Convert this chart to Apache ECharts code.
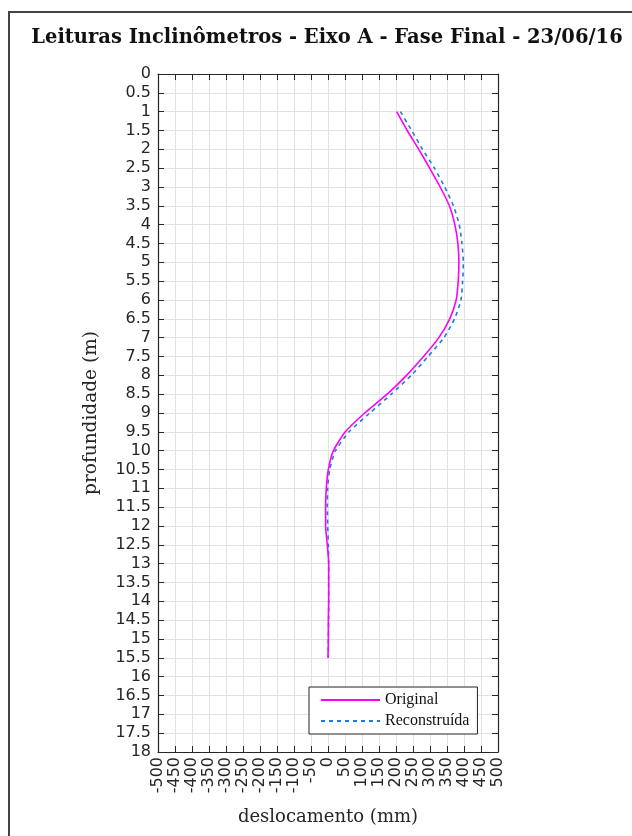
<!DOCTYPE html>
<html>
<head>
<meta charset="utf-8">
<script src="https://cdn.jsdelivr.net/npm/echarts@6/dist/echarts.min.js"></script>
<style>
html,body{margin:0;padding:0;background:#fff;}
#chart{width:632px;height:836px;}
</style>
</head>
<body>
<div id="chart"></div>
<script>
// Depth (m) of each reading
const depths = [1, 1.5, 2, 2.5, 3, 3.5, 4, 4.5, 5, 5.5, 6, 6.5, 7, 7.5, 8, 8.5, 9, 9.5, 10, 10.5, 11, 11.5, 12, 12.5, 13, 13.5, 14, 14.5, 15, 15.5];
// Displacement (mm) - Original
const original = [202, 233, 267, 299, 330, 357, 373, 382, 385, 383, 377, 358, 326, 281, 231, 174, 108, 51, 16, 1, -5, -7, -7, -2, 2, 2, 2, 1, 1, 0];
// Displacement (mm) - Reconstruída
const reconstruida = [213, 246, 278, 313, 343, 369, 386, 394, 398, 396, 391, 372, 341, 294, 245, 186, 123, 62, 22, 5, -1, -2, -1, 1, 2, 2, 2, 2, 1, 1];

const titleText = 'Leituras Inclinômetros - Eixo A - Fase Final - 23/06/16';
const xName = 'deslocamento (mm)';
const yName = 'profundidade (m)';

const axisColor = '#262626';
const gridColor = '#e2e2e2';
const sans = 'DejaVu Sans';
const serif = 'DejaVu Serif';

const chart = echarts.init(document.getElementById('chart'), null, {renderer: 'canvas'});

const tickStyle = {show: true, inside: true, length: 6, lineStyle: {color: axisColor, width: 1}};
const lineStyleAxis = {show: true, onZero: false, lineStyle: {color: axisColor, width: 1.2}};

const option = {
  animation: false,
  backgroundColor: '#ffffff',
  title: {
    text: titleText,
    left: 322,
    top: 23,
    textAlign: 'center',
    textStyle: {fontFamily: serif, fontWeight: 'bold', fontSize: 19.5, color: '#111'}
  },
  graphic: [{
    type: 'rect',
    z: -1,
    shape: {x: 9, y: 12, width: 700, height: 900},
    style: {fill: 'none', stroke: '#444', lineWidth: 2}
  }],
  legend: {
    orient: 'vertical',
    left: 309,
    top: 687,
    padding: [5, 8, 5, 11],
    itemGap: 5,
    itemWidth: 59,
    itemHeight: 14,
    borderColor: '#222',
    borderWidth: 1,
    backgroundColor: '#ffffff',
    itemStyle: {opacity: 0, borderWidth: 0},
    textStyle: {fontFamily: 'Liberation Serif', fontSize: 16, color: '#111'},
    data: ['Original', 'Reconstruída']
  },
  grid: {left: 158, top: 74, width: 340, height: 678, containLabel: false},
  xAxis: [{
    type: 'value', min: -500, max: 500, interval: 50, position: 'bottom',
    axisLine: lineStyleAxis, axisTick: tickStyle,
    axisLabel: {rotate: 90, fontFamily: sans, fontSize: 16, color: axisColor, margin: 5, showMinLabel: true, showMaxLabel: true},
    splitLine: {show: true, lineStyle: {color: gridColor, width: 1}},
    name: xName, nameLocation: 'middle', nameGap: 56,
    nameTextStyle: {fontFamily: serif, fontSize: 18, color: axisColor}
  }, {
    type: 'value', min: -500, max: 500, interval: 50, position: 'top',
    axisLine: lineStyleAxis, axisTick: tickStyle,
    axisLabel: {show: false}, splitLine: {show: false}
  }],
  yAxis: [{
    type: 'value', min: 0, max: 18, interval: 0.5, inverse: true, position: 'left',
    axisLine: lineStyleAxis, axisTick: tickStyle,
    axisLabel: {fontFamily: sans, fontSize: 16, color: axisColor, margin: 7, showMinLabel: true, showMaxLabel: true},
    splitLine: {show: true, lineStyle: {color: gridColor, width: 1}},
    name: yName, nameLocation: 'middle', nameGap: 57, nameRotate: 90,
    nameTextStyle: {fontFamily: serif, fontSize: 18.5, color: axisColor}
  }, {
    type: 'value', min: 0, max: 18, interval: 0.5, inverse: true, position: 'right',
    axisLine: lineStyleAxis, axisTick: tickStyle,
    axisLabel: {show: false}, splitLine: {show: false}
  }],
  series: [{
    name: 'Original',
    type: 'line',
    xAxisIndex: 0, yAxisIndex: 0,
    symbol: 'none',
    smooth: 0.2,
    data: depths.map((d, i) => [original[i], d]),
    lineStyle: {color: '#ff00ff', width: 1.6, type: 'solid'},
    itemStyle: {color: '#ff00ff'},
    z: 3
  }, {
    name: 'Reconstruída',
    type: 'line',
    xAxisIndex: 0, yAxisIndex: 0,
    symbol: 'none',
    smooth: 0.2,
    data: depths.map((d, i) => [reconstruida[i], d]),
    lineStyle: {color: '#1a7fd4', width: 1.6, type: [4, 4]},
    itemStyle: {color: '#1a7fd4'},
    z: 2
  }]
};

chart.setOption(option);
</script>
</body>
</html>
